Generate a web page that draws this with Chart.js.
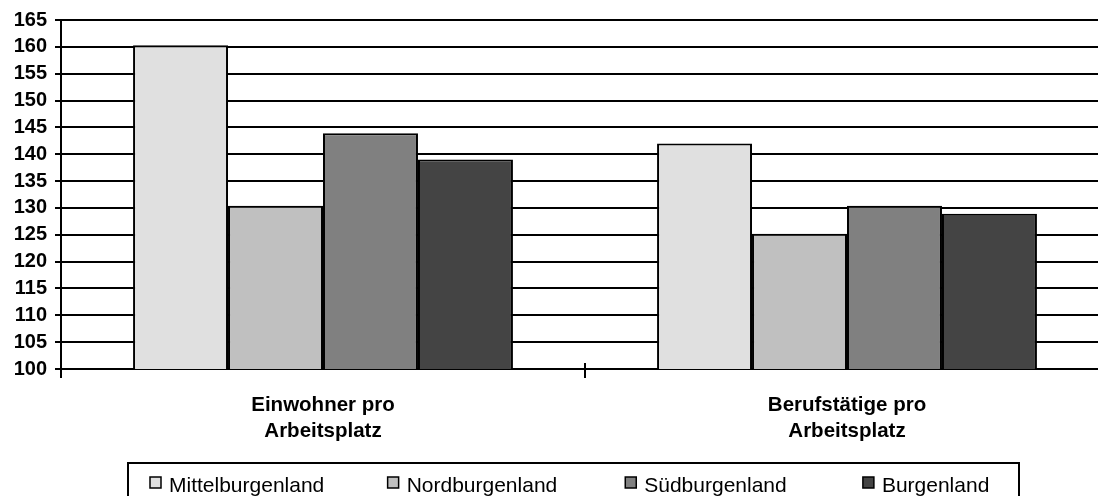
<!DOCTYPE html>
<html>
<head>
<meta charset="utf-8">
<script src="https://cdn.jsdelivr.net/npm/chart.js@4/dist/chart.umd.min.js"></script>
<style>
  html, body { margin: 0; padding: 0; background: #fff; overflow: hidden; }
  #wrap { width: 1110px; height: 496px; }
</style>
</head>
<body>
<div id="wrap"><canvas id="c" width="1110" height="496"></canvas></div>
<script>
// Categories (multi-line axis labels)
const categories = [
  ['Einwohner pro', 'Arbeitsplatz'],
  ['Berufstätige pro', 'Arbeitsplatz']
];

// Series values per region
const mittelburgenland = [160.3, 142.0];
const nordburgenland   = [130.4, 125.2];
const suedburgenland   = [143.9, 130.4];
const burgenland       = [139.0, 128.9];

const seriesNames  = ['Mittelburgenland', 'Nordburgenland', 'Südburgenland', 'Burgenland'];
const seriesColors = ['#e0e0e0', '#c0c0c0', '#808080', '#444444'];

// Value axis range and step
const yMin = 100, yMax = 165, yStep = 5;

const FONT = '"Liberation Sans", Arial, Helvetica, sans-serif';

const seriesData = [mittelburgenland, nordburgenland, suedburgenland, burgenland];
const datasets = seriesData.map((d, i) => ({
  label: seriesNames[i],
  data: d,
  backgroundColor: seriesColors[i],
  borderColor: '#000',
  borderWidth: 2,
  borderSkipped: 'bottom',
  categoryPercentage: 0.725,
  barPercentage: 1.0
}));

// Small tick crossing the category axis between groups
const innerTicks = {
  id: 'innerTicks',
  afterDraw(chart) {
    const x = chart.scales.x, ctx = chart.ctx;
    const bottom = chart.chartArea.bottom;
    ctx.save();
    ctx.strokeStyle = '#000';
    ctx.lineWidth = 2;
    for (let i = 0; i < categories.length - 1; i++) {
      const px = Math.round((x.getPixelForValue(i) + x.getPixelForValue(i + 1)) / 2);
      ctx.beginPath();
      ctx.moveTo(px, bottom - 6);
      ctx.lineTo(px, bottom);
      ctx.stroke();
    }
    ctx.restore();
  }
};

// Boxed legend below the category labels
const boxedLegend = {
  id: 'boxedLegend',
  afterDraw(chart) {
    const ctx = chart.ctx;
    const left = 128, right = 1019, top = 463, bottom = 520;
    ctx.save();
    ctx.strokeStyle = '#000';
    ctx.lineWidth = 2;
    ctx.strokeRect(left, top, right - left, bottom - top);
    const step = (right - left) * 0.2667;
    ctx.font = '21px ' + FONT;
    ctx.textBaseline = 'alphabetic';
    chart.data.datasets.forEach((ds, i) => {
      const mx = left + 22 + i * step;
      ctx.fillStyle = ds.backgroundColor;
      ctx.fillRect(mx, 477, 11, 11);
      ctx.lineWidth = 1.5;
      ctx.strokeStyle = '#000';
      ctx.strokeRect(mx, 477, 11, 11);
      ctx.fillStyle = '#000';
      ctx.fillText(ds.label, mx + 19, 492);
    });
    ctx.restore();
  }
};

new Chart(document.getElementById('c'), {
  type: 'bar',
  data: { labels: categories, datasets },
  options: {
    responsive: false,
    animation: false,
    layout: { padding: { top: 12, right: 1, left: 0, bottom: 0 } },
    plugins: { legend: { display: false }, tooltip: { enabled: false } },
    scales: {
      x: {
        offset: true,
        grid: { display: true, drawOnChartArea: false, color: '#000', lineWidth: 2, tickLength: 9, offset: true },
        border: { color: '#000', width: 2 },
        ticks: {
          color: '#000',
          font: { family: FONT, size: 20.5, weight: 'bold', lineHeight: 1.25 },
          padding: 15,
          maxRotation: 0
        },
        afterFit(scale) { scale.height = 127; }
      },
      y: {
        min: yMin, max: yMax,
        grid: { color: '#000', lineWidth: 2, tickLength: 6 },
        border: { color: '#000', width: 2 },
        ticks: {
          stepSize: yStep,
          autoSkip: false,
          color: '#000',
          padding: 8,
          font: { family: FONT, size: 20, weight: 'bold' }
        },
        afterFit(scale) { scale.width = 61; }
      }
    }
  },
  plugins: [innerTicks, boxedLegend]
});
</script>
</body>
</html>
